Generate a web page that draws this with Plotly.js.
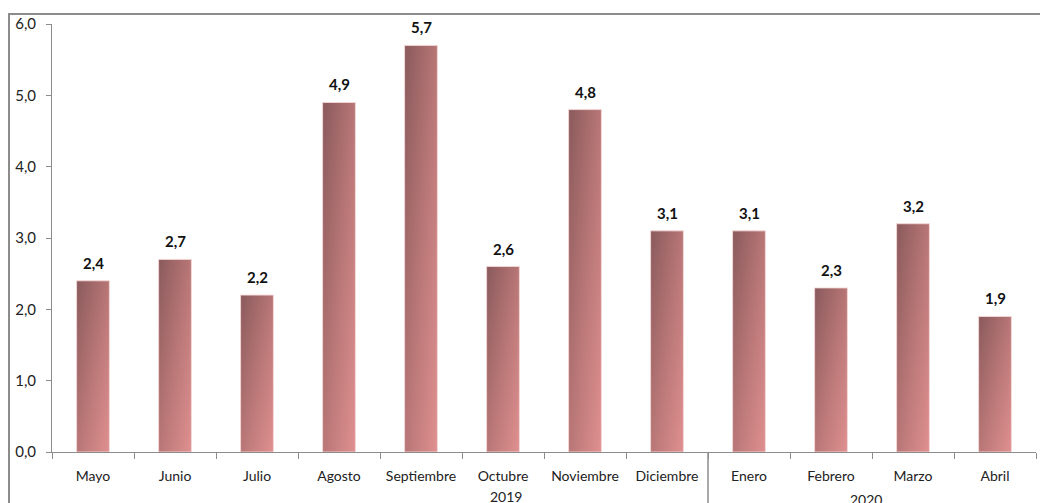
<!DOCTYPE html>
<html>
<head>
<meta charset="utf-8">
<script src="https://cdn.plot.ly/plotly-3.0.1.min.js"></script>
<style>
  html, body { margin: 0; padding: 0; background: #fff; overflow: hidden; }
  #wrap { position: relative; width: 1040px; height: 503px; }
  #chart { position: absolute; left: 0; top: 0; width: 1040px; height: 503px; }
  #frame { position: absolute; left: 8px; top: 13px; width: 1100px; height: 600px;
           border-top: 2px solid #8c8c8c; border-left: 2px solid #8c8c8c; pointer-events: none; }
</style>
</head>
<body>
<div id="wrap">
  <div id="chart"></div>
  <div id="frame"></div>
</div>
<script>
// ---- data ----
const months = ["Mayo", "Junio", "Julio", "Agosto", "Septiembre", "Octubre",
                "Noviembre", "Diciembre", "Enero", "Febrero", "Marzo", "Abril"];
const values = [2.4, 2.7, 2.2, 4.9, 5.7, 2.6, 4.8, 3.1, 3.1, 2.3, 3.2, 1.9];
const yearLabels = ["2019", "2020"];
const yTicks = [0, 1, 2, 3, 4, 5, 6];

const FONT = "Lato, 'Open Sans', sans-serif";

const trace = {
  type: "bar",
  x: months,
  y: values,
  width: 0.4,
  marker: { color: "#b87676", line: { color: "rgba(245,215,215,0.9)", width: 1 } },
  hoverinfo: "x+y"
};

const valueAnnotations = months.map((m, i) => ({
  x: m, y: values[i], xref: "x", yref: "y",
  text: values[i].toFixed(1).replace(".", ","),
  showarrow: false, yanchor: "bottom", yshift: 7,
  font: { family: FONT, size: 15, color: "#111", weight: "bold" }
}));

const yearAnnotations = [
  { x: 0.461, y: -0.104, text: yearLabels[0] },
  { x: 0.827, y: -0.110, text: yearLabels[1] }
].map(a => Object.assign(a, {
  xref: "paper", yref: "paper", showarrow: false, xanchor: "center", yanchor: "middle",
  font: { family: FONT, size: 14, color: "#222" }
}));

const layout = {
  width: 1040, height: 503,
  margin: { l: 52, r: 4, t: 24, b: 51, pad: 0 },
  paper_bgcolor: "#ffffff", plot_bgcolor: "#ffffff",
  separators: ",.",
  showlegend: false,
  bargap: 0.6,
  font: { family: FONT, size: 14, color: "#222" },
  xaxis: {
    type: "category", range: [-0.5, 11.5], fixedrange: true,
    showline: true, linecolor: "#8c8c8c", linewidth: 1,
    ticks: "outside", tickson: "boundaries", ticklen: 6, tickcolor: "#8c8c8c", tickwidth: 1,
    showgrid: false, zeroline: false, tickangle: 0,
    ticklabelstandoff: 11,
    tickfont: { family: FONT, size: 14, color: "#222" }
  },
  yaxis: {
    range: [0, 6], tickvals: yTicks, tickformat: ".1f", fixedrange: true,
    showline: true, linecolor: "#8c8c8c", linewidth: 1,
    ticks: "outside", ticklen: 5, tickcolor: "#8c8c8c", tickwidth: 1,
    showgrid: false, zeroline: false,
    ticklabelstandoff: 7,
    tickfont: { family: FONT, size: 15, color: "#222" }
  },
  shapes: [
    { type: "line", xref: "x", yref: "paper", x0: 7.5, x1: 7.5, y0: 0, y1: -0.125,
      line: { color: "#8c8c8c", width: 1.5 } }
  ],
  annotations: valueAnnotations.concat(yearAnnotations)
};

Plotly.newPlot("chart", [trace], layout, { displayModeBar: false, staticPlot: true }).then(gd => {
  const svgNS = "http://www.w3.org/2000/svg";
  const svg = gd.querySelector("svg.main-svg");
  let defs = svg.querySelector("defs");
  if (!defs) { defs = document.createElementNS(svgNS, "defs"); svg.insertBefore(defs, svg.firstChild); }
  const grad = document.createElementNS(svgNS, "linearGradient");
  grad.setAttribute("id", "barGrad");
  grad.setAttribute("x1", "0"); grad.setAttribute("y1", "0");
  grad.setAttribute("x2", "1"); grad.setAttribute("y2", "1");
  [["0%", "#8a5a5c"], ["50%", "#b87676"], ["100%", "#e09090"]].forEach(([o, c]) => {
    const s = document.createElementNS(svgNS, "stop");
    s.setAttribute("offset", o); s.setAttribute("stop-color", c);
    grad.appendChild(s);
  });
  defs.appendChild(grad);
  gd.querySelectorAll(".trace.bars .point path").forEach(p => {
    p.style.fill = "url(#barGrad)";
  });
});
</script>
</body>
</html>
